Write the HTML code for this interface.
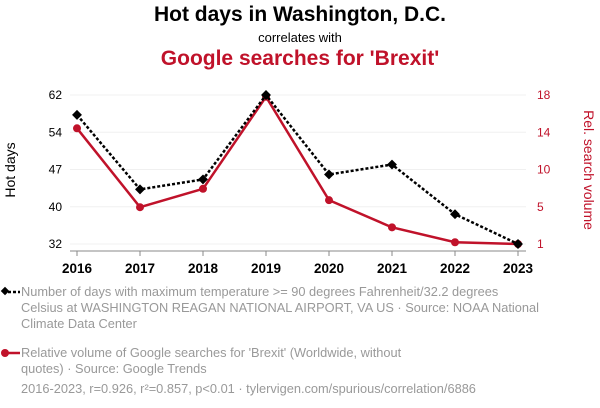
<!DOCTYPE html>
<html><head><meta charset="utf-8"><style>
body{margin:0;width:600px;height:408px;background:#fff;font-family:"Liberation Sans",sans-serif;overflow:hidden;position:relative}
.t{position:absolute;left:0;width:600px;text-align:center}
.leg{position:absolute;left:21px;font-size:12.8px;color:#999;line-height:16px;width:590px;white-space:nowrap}
</style></head><body>
<div class="t" style="top:3px;font-size:21px;font-weight:bold;color:#000">Hot days in Washington, D.C.</div>
<div class="t" style="top:30px;font-size:13px;color:#000">correlates with</div>
<div class="t" style="top:47px;font-size:21px;font-weight:bold;color:#c0122a">Google searches for 'Brexit'</div>
<svg id="c" width="600" height="280" style="position:absolute;left:0;top:0"></svg>
<div class="leg" style="top:284px">Number of days with maximum temperature &gt;= 90 degrees Fahrenheit/32.2 degrees<br>Celsius at WASHINGTON REAGAN NATIONAL AIRPORT, VA US · Source: NOAA National<br>Climate Data Center</div>
<div class="leg" style="top:345px">Relative volume of Google searches for 'Brexit' (Worldwide, without<br>quotes) · Source: Google Trends</div>
<div class="leg" style="top:381px">2016-2023, r=0.926, r²=0.857, p&lt;0.01 · tylervigen.com/spurious/correlation/6886</div>
<svg width="24" height="120" style="position:absolute;left:0;top:280px">
<line x1="3" y1="12" x2="20" y2="12" stroke="#000" stroke-width="2.5" stroke-dasharray="3,2"/>
<rect x="2" y="8" width="6" height="6" transform="rotate(45 5 11)" fill="#000"/>
<line x1="4" y1="73" x2="20" y2="73" stroke="#c0122a" stroke-width="2.5"/>
<circle cx="5" cy="73" r="4" fill="#c0122a"/>
</svg>
<script>
const years=[2016,2017,2018,2019,2020,2021,2022,2023];
const hotDays=[58,43,45,62,46,48,38,32];
const brexit=[14.2,5.2,7.3,17.8,6.0,2.9,1.2,1.0];
const leftTicks=[62,54,47,40,32];
const rightTicks=[18,14,10,5,1];
const NS="http://www.w3.org/2000/svg";
const svg=document.getElementById('c');
const x=i=>77+(518-77)*i/(years.length-1);
const yL=v=>95+(62-v)*(244-95)/(62-32);
const yR=v=>95+(18-v)*(244-95)/(18-1);
function mk(t,a,p){const e=document.createElementNS(NS,t);for(const k in a)e.setAttribute(k,a[k]);(p||svg).appendChild(e);return e;}
leftTicks.forEach((v,i)=>{const yy=95+i*(244-95)/(leftTicks.length-1);
 const g=mk('line',{x1:70,x2:526,y1:yy,y2:yy,stroke:'#f0f0f0','stroke-width':1});
 
 
 const t=mk('text',{x:62,y:yy+4,'text-anchor':'end','font-size':12,fill:'#000'});t.textContent=v;
 
 });
rightTicks.forEach((v,i)=>{const yy=95+i*(244-95)/(rightTicks.length-1);
 const t=mk('text',{x:537,y:yy+4,'text-anchor':'start','font-size':12,fill:'#c0122a'});t.textContent=v;
 
 });
const ax=mk('line',{x1:70,x2:526,y1:251,y2:251,stroke:'#888','stroke-width':1});


years.forEach((yv,i)=>{mk('line',{x1:x(i),x2:x(i),y1:251,y2:256,stroke:'#888'});
 const t=mk('text',{x:x(i),y:273,'text-anchor':'middle','font-size':13.5,'font-weight':'bold',fill:'#000'});t.textContent=yv;
 
 });
const yt=mk('text',{transform:'translate(15,170) rotate(-90)','text-anchor':'middle','font-size':14,fill:'#000'});yt.textContent='Hot days';


const yt2=mk('text',{transform:'translate(584,170) rotate(90)','text-anchor':'middle','font-size':14,fill:'#c0122a'});yt2.textContent='Rel. search volume';


const rl=mk('polyline',{points:brexit.map((v,i)=>x(i)+','+yR(v)).join(' '),fill:'none',stroke:'#c0122a','stroke-width':2.5});


brexit.forEach((v,i)=>{const c=mk('circle',{cx:x(i),cy:yR(v),r:4,fill:'#c0122a'});
 
 });
const bl=mk('polyline',{points:hotDays.map((v,i)=>x(i)+','+yL(v)).join(' '),fill:'none',stroke:'#000','stroke-width':2.5,'stroke-dasharray':'3,2'});


hotDays.forEach((v,i)=>{const r=mk('rect',{x:x(i)-3.5,y:yL(v)-3.5,width:7,height:7,fill:'#000',transform:`rotate(45 ${x(i)} ${yL(v)})`});
 
 });
</script>
</body></html>
